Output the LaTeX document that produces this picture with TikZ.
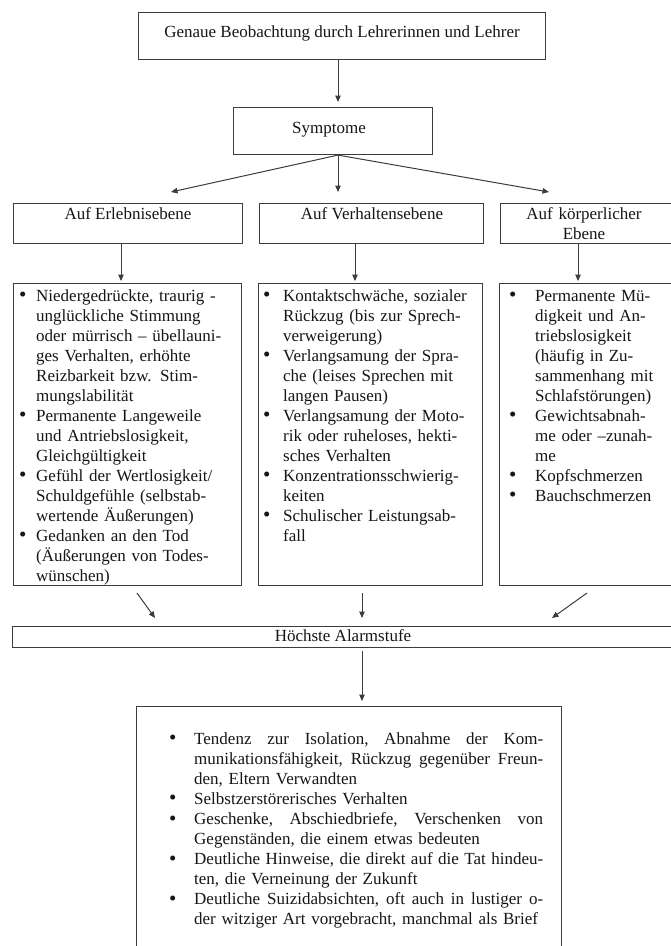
\documentclass[tikz,border=0pt]{standalone}
\usepackage{fontspec}
\setmainfont{Liberation Serif}
\usetikzlibrary{arrows.meta}
\definecolor{ink}{HTML}{161616}
\definecolor{rulec}{HTML}{3C3C3C}
\newcommand{\bul}{\raisebox{-0.6pt}{\fontsize{21}{20}\selectfont\textbullet}}
\newcommand{\bitem}[2]{\noindent\hangindent=#1\hangafter=1\makebox[#1][l]{\bul}#2\par}
\newcommand{\jl}[1]{\hbox to 349pt{\frenchspacing\spaceskip=\fontdimen2\font plus 1fil\relax #1}}
\tikzset{
  x=1pt, y=-1pt,
  box/.style={draw=rulec, line width=1.1pt, inner sep=0pt, anchor=north west},
  lbl/.style={text=ink, inner sep=0pt, anchor=base, font=\fontsize{17}{20}\selectfont},
  lst/.style={text=ink, inner sep=0pt, anchor=base west, font=\fontsize{17}{20}\selectfont},
  arr/.style={draw=rulec, line width=1pt, -{Triangle[length=6.5pt,width=5.5pt]}},
}
\begin{document}
\begin{tikzpicture}
\useasboundingbox (0,0) rectangle (671,946);
\clip (0,0) rectangle (671,946);
\fill[white] (0,0) rectangle (671,946);

% boxes
\node[box, minimum width=407, minimum height=47] (top) at (138,12) {};
\node[box, minimum width=199, minimum height=47] (sym) at (233,107) {};
\node[box, minimum width=229, minimum height=40] (h1) at (13,203) {};
\node[box, minimum width=224, minimum height=40] (h2) at (259,203) {};
\node[box, minimum width=200, minimum height=40] (h3) at (500,203) {};
\node[box, minimum width=228, minimum height=302] (b1) at (13,283) {};
\node[box, minimum width=224, minimum height=302] (b2) at (258,283) {};
\node[box, minimum width=200, minimum height=302] (b3) at (499,283) {};
\node[box, minimum width=688, minimum height=21] (hoch) at (12,626) {};
\node[box, minimum width=425, minimum height=274] (bot) at (136,706) {};

% texts
\node[lbl] (topt) at (342,37) {Genaue Beobachtung durch Lehrerinnen und Lehrer};
\node[lbl] (symt) at (329,133) {Symptome};
\node[lbl] (h1t) at (128,219) {Auf Erlebnisebene};
\node[lbl] (h2t) at (372,219) {Auf Verhaltensebene};
\node[lbl, text width=150, align=center] (h3t) at (584,219) {Auf körperlicher\\Ebene};
\node[lbl] (hocht) at (343,641) {Höchste Alarmstufe};

\node[lst, text width=220] (l1) at (19,301) {%
\bitem{17pt}{Niedergedrückte, traurig -\newline unglückliche Stimmung\newline oder mürrisch – übellauni-\newline ges Verhalten, erhöhte\newline Reizbarkeit bzw. Stim-\newline mungslabilität}%
\bitem{17pt}{Permanente Langeweile\newline und Antriebslosigkeit,\newline Gleichgültigkeit}%
\bitem{17pt}{Gefühl der Wertlosigkeit/\newline Schuldgefühle (selbstab-\newline wertende Äußerungen)}%
\bitem{17pt}{Gedanken an den Tod\newline (Äußerungen von Todes-\newline wünschen)}};

\node[lst, text width=215] (l2) at (263,301) {%
\bitem{20pt}{Kontaktschwäche, sozialer\newline Rückzug (bis zur Sprech-\newline verweigerung)}%
\bitem{20pt}{Verlangsamung der Spra-\newline che (leises Sprechen mit\newline langen Pausen)}%
\bitem{20pt}{Verlangsamung der Moto-\newline rik oder ruheloses, hekti-\newline sches Verhalten}%
\bitem{20pt}{Konzentrationsschwierig-\newline keiten}%
\bitem{20pt}{Schulischer Leistungsab-\newline fall}};

\node[lst, text width=155] (l3) at (509,301) {%
\bitem{26pt}{Permanente Mü-\newline digkeit und An-\newline triebslosigkeit\newline (häufig in Zu-\newline sammenhang mit\newline Schlafstörungen)}%
\bitem{26pt}{Gewichtsabnah-\newline me oder –zunah-\newline me}%
\bitem{26pt}{Kopfschmerzen}%
\bitem{26pt}{Bauchschmerzen}};

\node[lst, text width=374, font=\fontsize{17}{20.1}\selectfont] (l4) at (169,744) {%
\bitem{25pt}{\jl{Tendenz zur Isolation, Abnahme der Kom-}\newline\jl{munikationsfähigkeit, Rückzug gegenüber Freun-}\newline den, Eltern Verwandten}%
\bitem{25pt}{Selbstzerstörerisches Verhalten}%
\bitem{25pt}{\jl{Geschenke, Abschiedbriefe, Verschenken von}\newline Gegenständen, die einem etwas bedeuten}%
\bitem{25pt}{\jl{Deutliche Hinweise, die direkt auf die Tat hindeu-}\newline ten, die Verneinung der Zukunft}%
\bitem{25pt}{\jl{Deutliche Suizidabsichten, oft auch in lustiger o-}\newline der witziger Art vorgebracht, manchmal als Brief}};

% connector coordinates
\coordinate (cx) at (338,0);
\coordinate (s1) at (171,192);
\coordinate (s2) at (338,192);
\coordinate (s3) at (549,192);
\coordinate (x1) at (121,0);
\coordinate (x2) at (355,0);
\coordinate (x3) at (578,0);
\coordinate (d1a) at (137,593);
\coordinate (d1b) at (155,618);
\coordinate (d2a) at (362,593);
\coordinate (d2b) at (362,618);
\coordinate (d3a) at (587,593);
\coordinate (d3b) at (552,618);
\coordinate (cy) at (362,0);

% connectors
\draw[arr, shorten >=5pt] (top.south -| cx) -- (sym.north -| cx);
\draw[arr] (sym.south -| cx) -- (s1);
\draw[arr] (sym.south -| cx) -- (s2);
\draw[arr] (sym.south -| cx) -- (s3);
\draw[arr, shorten >=2pt] (h1.south -| x1) -- (b1.north -| x1);
\draw[arr, shorten >=2pt] (h2.south -| x2) -- (b2.north -| x2);
\draw[arr, shorten >=2pt] (h3.south -| x3) -- (b3.north -| x3);
\draw[arr] (d1a) -- (d1b);
\draw[arr] (d2a) -- (d2b);
\draw[arr] (d3a) -- (d3b);
\draw[arr, shorten >=5pt, shorten <=3pt] (hoch.south -| cy) -- (bot.north -| cy);
\end{tikzpicture}
\end{document}
